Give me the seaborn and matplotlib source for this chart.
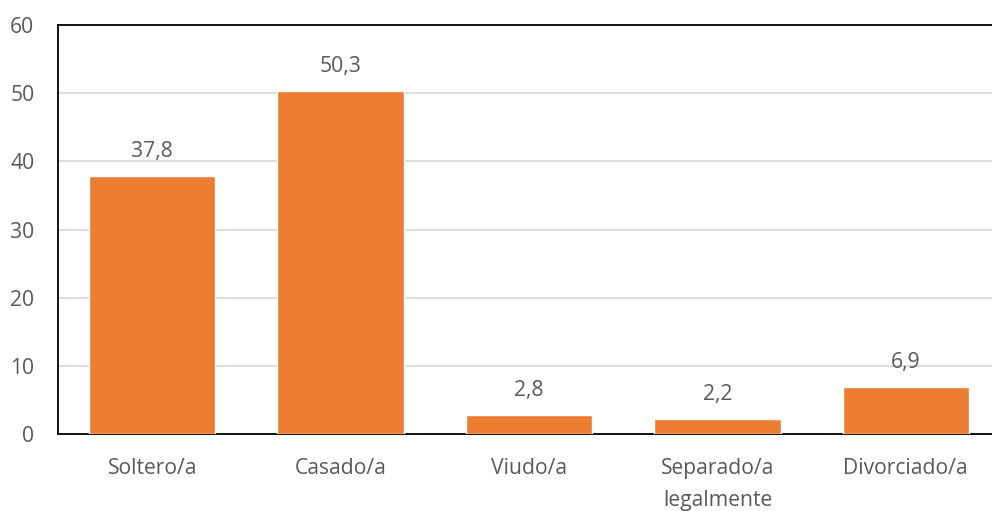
import matplotlib
matplotlib.use("Agg")
import matplotlib.pyplot as plt
import seaborn as sns
import pandas as pd

categories = ["Soltero/a", "Casado/a", "Viudo/a", "Separado/a\nlegalmente", "Divorciado/a"]
values = [37.8, 50.3, 2.8, 2.2, 6.9]
labels = ["37,8", "50,3", "2,8", "2,2", "6,9"]
yticks = [0, 10, 20, 30, 40, 50, 60]

sns.set_theme(style="white")
plt.rcParams['font.family'] = ['Open Sans', 'DejaVu Sans']

df = pd.DataFrame({"cat": categories, "val": values})

FS = 15.2

fig = plt.figure(figsize=(9.92, 5.11), dpi=100)
ax = fig.add_axes([58/992, 1-434/511, 942/992, (434-25)/511])
sns.barplot(data=df, x="cat", y="val", color="#ED7D31", saturation=1, width=0.67, ax=ax, zorder=3)

ax.set_ylim(0, 60)
ax.set_xlim(-0.5, 4.5)
ax.set_yticks(yticks)
ax.set_yticklabels([str(t) for t in yticks])
ax.set_xlabel("")
ax.set_ylabel("")
ax.yaxis.grid(True, color="#d9d9d9", linewidth=1.3, zorder=0)
ax.set_axisbelow(True)
for s in ["left", "top", "bottom", "right"]:
    ax.spines[s].set_visible(True)
    ax.spines[s].set_color("black")
    ax.spines[s].set_linewidth(1.3)
ax.tick_params(axis="both", length=0, labelsize=FS, colors="#595959")
ax.tick_params(axis="y", pad=17)
ax.tick_params(axis="x", pad=17)
for lab in ax.get_xticklabels():
    lab.set_linespacing(1.7)

for i, (v, t) in enumerate(zip(values, labels)):
    ax.annotate(t, (i, v), xytext=(0, 10), textcoords="offset points",
                ha="center", va="bottom", fontsize=FS, color="#595959")

fig.savefig("out.png", dpi=100)
